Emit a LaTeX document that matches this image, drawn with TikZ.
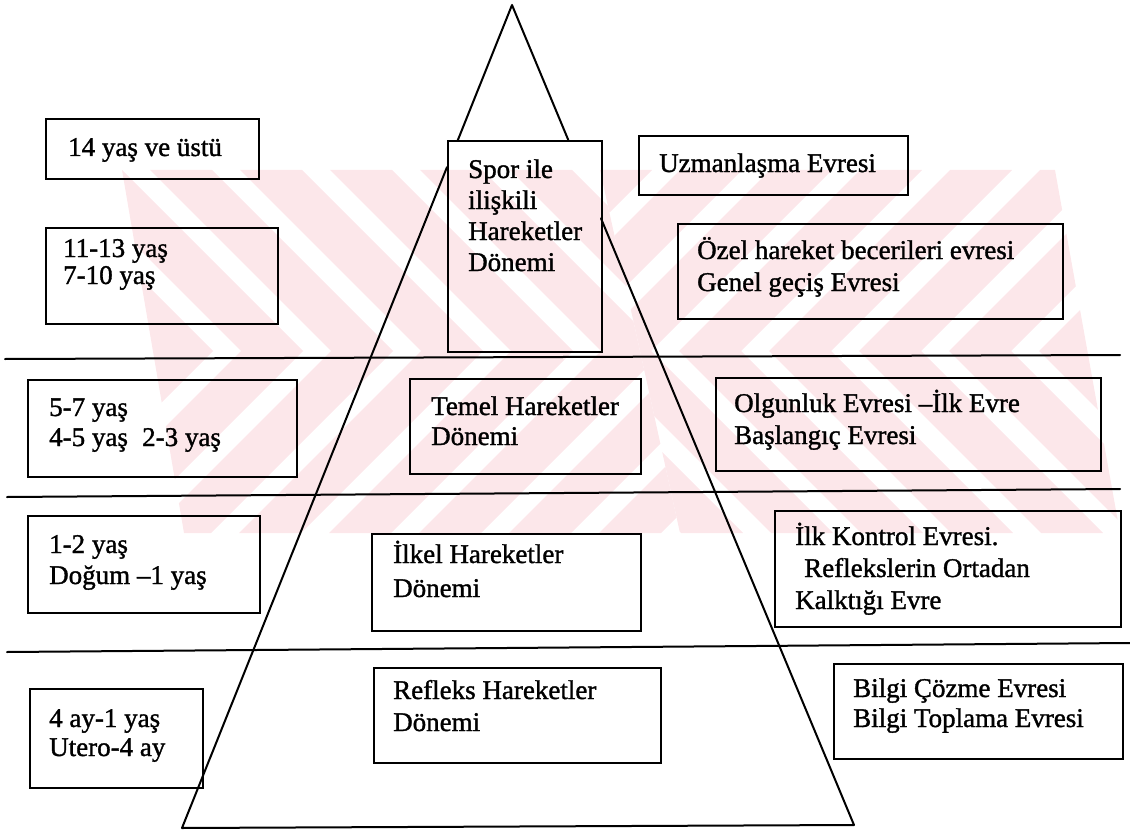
\documentclass[tikz,border=0pt]{standalone}
\usepackage{fontspec}
\setmainfont{Liberation Serif}
\newfontfamily\scanfont{Liberation Serif}[FakeBold=1.3]
\usetikzlibrary{calc}
\definecolor{wm}{RGB}{252,231,234}
\tikzset{
  ln/.style={line width=2pt, line cap=round, line join=round},
  boxst/.style={draw, line width=1.9pt, inner sep=0pt, anchor=north west},
  txt/.style={inner sep=0pt, anchor=base west, font=\scanfont\fontsize{27}{31}\selectfont},
  wmfill/.style={fill=wm},
}
\newcommand{\bx}[5]{\node[boxst, minimum width={#4-#2}, minimum height={#5-#3}] (#1) at (#2,#3) {};}
\begin{document}
\begin{tikzpicture}[x=1pt,y=-1pt]
\useasboundingbox (0,0) rectangle (1130,832);
% ---- watermark ----
\begin{scope}
  \clip (122,170) -- (1055,170) -- (1120,533) -- (184,533) -- cycle;
  \begin{scope}
    \clip (0,170) -- (600,170) -- (640,351) -- (0,351) -- cycle;
    \foreach \s in {-300,-210,...,700} \fill[wmfill] (\s,170) -- ++(62,0) -- ++(181,181) -- ++(-62,0) -- cycle;
  \end{scope}
  \begin{scope}
    \clip (0,351) -- (640,351) -- (680,533) -- (0,533) -- cycle;
    \foreach \s in {-300,-210,...,700} \fill[wmfill] (\s+181,351) -- ++(62,0) -- ++(-182,182) -- ++(-62,0) -- cycle;
  \end{scope}
  \begin{scope}
    \clip (600,170) -- (1130,170) -- (1130,351) -- (640,351) -- cycle;
    \foreach \s in {500,590,...,1500} \fill[wmfill] (\s,170) -- ++(62,0) -- ++(-181,181) -- ++(-62,0) -- cycle;
  \end{scope}
  \begin{scope}
    \clip (640,351) -- (1130,351) -- (1130,533) -- (680,533) -- cycle;
    \foreach \s in {500,590,...,1500} \fill[wmfill] (\s-181,351) -- ++(62,0) -- ++(182,182) -- ++(-62,0) -- cycle;
  \end{scope}
\end{scope}
% ---- triangle ----
\coordinate (apex) at (512,5);
\coordinate (bl) at (182,828);
\coordinate (br) at (854,825);
\coordinate (lt) at ($(apex)!{(140-5)/(828-5)}!(bl)$);
\coordinate (ls) at ($(apex)!{(512-447)/(512-182)}!(bl)$);
\coordinate (rt) at ($(apex)!{(140-5)/(825-5)}!(br)$);
\coordinate (rs) at ($(apex)!{(601-512)/(854-512)}!(br)$);
\draw[ln] (lt) -- (apex) -- (rt);
\draw[ln] (ls) -- (bl) -- (br) -- (rs);
% ---- horizontal lines ----
\coordinate (h1l) at (5,359);   \coordinate (h1r) at (1120,355);
\coordinate (h2l) at (7,497);   \coordinate (h2r) at (1120,489);
\coordinate (h3l) at (7,652);   \coordinate (h3r) at (1130,643);
\draw[ln] (h1l) -- (h1r);
\draw[ln] (h2l) -- (h2r);
\draw[ln] (h3l) -- (h3r);
% ---- boxes ----
\bx{b14}{45}{118}{258}{178}
\bx{bonbir}{45}{227}{277}{323}
\bx{bspor}{447}{140}{601}{351}
\bx{buzm}{638}{135}{907}{194}
\bx{bozel}{677}{223}{1062}{318}
\bx{bbes}{27}{379}{296}{476}
\bx{btemel}{409}{378}{640}{473}
\bx{bolg}{715}{377}{1100}{470}
\bx{bbir}{27}{515}{259}{612}
\bx{bilkel}{371}{533}{640}{630}
\bx{bkontrol}{774}{510}{1120}{626}
\bx{bdort}{29}{688}{202}{787}
\bx{brefleks}{373}{667}{660}{762}
\bx{bbilgi}{833}{663}{1122}{758}
% ---- texts ----
\node[txt] (t14) at (68,156) {14 yaş ve üstü};
\node[txt] (t11a) at (63,257) {11-13 yaş};
\node[txt] (t11b) at (63,284) {7-10 yaş};
\node[txt] (tsa) at (468,178) {Spor ile};
\node[txt] (tsb) at (468,209) {ilişkili};
\node[txt] (tsc) at (468,240) {Hareketler};
\node[txt] (tsd) at (468,271) {Dönemi};
\node[txt] (tuz) at (659,172) {Uzmanlaşma Evresi};
\node[txt] (toa) at (697,259) {Özel hareket becerileri evresi};
\node[txt] (tob) at (697,291) {Genel geçiş Evresi};
\node[txt] (t5a) at (49,416) {5-7 yaş};
\node[txt] (t5b) at (49,446) {4-5 yaş};
\node[txt] (t5c) at (142,446) {2-3 yaş};
\node[txt] (tta) at (431,415) {Temel Hareketler};
\node[txt] (ttb) at (431,445) {Dönemi};
\node[txt] (tola) at (734,412) {Olgunluk Evresi –İlk Evre};
\node[txt] (tolb) at (734,444) {Başlangıç Evresi};
\node[txt] (t1a) at (49,553) {1-2 yaş};
\node[txt] (t1b) at (49,584) {Doğum –1 yaş};
\node[txt] (tia) at (393,563) {İlkel Hareketler};
\node[txt] (tib) at (393,597) {Dönemi};
\node[txt] (tka) at (795,545) {İlk Kontrol Evresi.};
\node[txt] (tkb) at (804,577) {Reflekslerin Ortadan};
\node[txt] (tkc) at (795,609) {Kalktığı Evre};
\node[txt] (t4a) at (49,727) {4 ay-1 yaş};
\node[txt] (t4b) at (49,756) {Utero-4 ay};
\node[txt] (tra) at (393,699) {Refleks Hareketler};
\node[txt] (trb) at (393,731) {Dönemi};
\node[txt] (tba) at (853,697) {Bilgi Çözme Evresi};
\node[txt] (tbb) at (853,727) {Bilgi Toplama Evresi};
\end{tikzpicture}
\end{document}
